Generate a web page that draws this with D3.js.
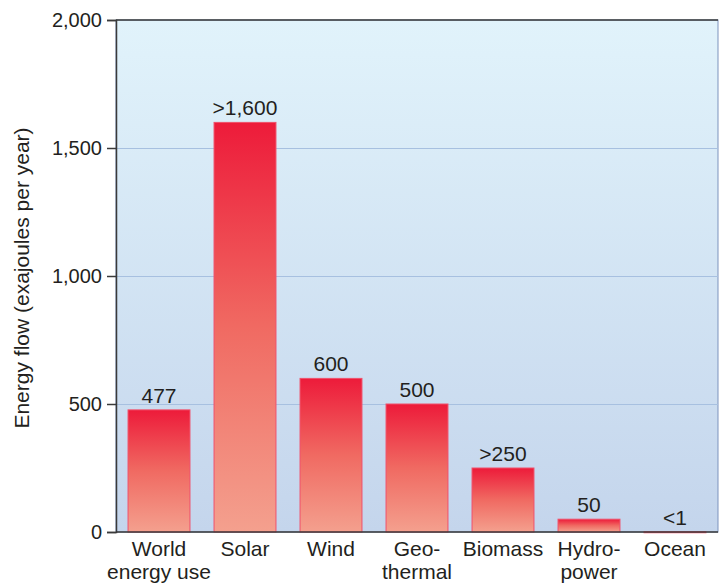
<!DOCTYPE html>
<html>
<head>
<meta charset="utf-8">
<script src="https://cdn.jsdelivr.net/npm/d3@7"></script>
<style>
  body { margin: 0; background: #fff; }
  text { font-family: "Liberation Sans", Arial, sans-serif; fill: #231f20; }
</style>
</head>
<body>
<div id="chart"></div>
<script>
// data
const categories = [["World", "energy use"], ["Solar"], ["Wind"], ["Geo-", "thermal"], ["Biomass"], ["Hydro-", "power"], ["Ocean"]];
const values = [477, 1600, 600, 500, 250, 50, 1];
const valueLabels = ["477", ">1,600", "600", "500", ">250", "50", "<1"];
const yTicks = [0, 500, 1000, 1500, 2000];

const width = 726, height = 585;
const margin = {top: 20, right: 8, bottom: 53, left: 116};

const svg = d3.select("#chart").append("svg")
    .attr("width", width)
    .attr("height", height);

const defs = svg.append("defs");
const bg = defs.append("linearGradient").attr("id", "bgGrad")
    .attr("x1", 0).attr("y1", 0).attr("x2", 0).attr("y2", 1);
bg.append("stop").attr("offset", "0%").attr("stop-color", "#e1f3fb");
bg.append("stop").attr("offset", "100%").attr("stop-color", "#c4d5ec");

const barGrad = defs.append("linearGradient").attr("id", "barGrad")
    .attr("x1", 0).attr("y1", 0).attr("x2", 0).attr("y2", 1);
barGrad.append("stop").attr("offset", "0%").attr("stop-color", "#ed1b3a");
barGrad.append("stop").attr("offset", "50%").attr("stop-color", "#f06a62");
barGrad.append("stop").attr("offset", "100%").attr("stop-color", "#f4a08e");

const x = d3.scaleBand()
    .domain(d3.range(categories.length))
    .range([margin.left, width - margin.right])
    .paddingInner(0.28)
    .paddingOuter(0.14);

const y = d3.scaleLinear()
    .domain([0, 2000])
    .range([height - margin.bottom, margin.top]);

// plot background
svg.append("rect")
    .attr("x", margin.left)
    .attr("y", margin.top)
    .attr("width", width - margin.right - margin.left)
    .attr("height", y(0) - margin.top)
    .attr("fill", "url(#bgGrad)")
    .attr("stroke", "#7d93bd")
    .attr("stroke-width", 1);

// gridlines
svg.append("g")
    .selectAll("line")
    .data(yTicks.filter(d => d > 0 && d < 2000))
    .join("line")
    .attr("x1", margin.left)
    .attr("x2", width - margin.right)
    .attr("y1", d => y(d) + 0.5)
    .attr("y2", d => y(d) + 0.5)
    .attr("stroke", "#a7c0e0")
    .attr("stroke-width", 1.2);

// top border
svg.append("line")
    .attr("x1", margin.left).attr("x2", width - margin.right)
    .attr("y1", margin.top).attr("y2", margin.top)
    .attr("stroke", "#3a3a3a").attr("stroke-width", 1.5);

// bars
svg.append("g")
    .selectAll("rect")
    .data(values)
    .join("rect")
    .attr("x", (d, i) => x(i))
    .attr("y", d => y(d))
    .attr("width", x.bandwidth())
    .attr("height", d => Math.max(1, y(0) - y(d)))
    .attr("fill", "url(#barGrad)")
    .attr("stroke", "#f0506a")
    .attr("stroke-width", 1);

// value labels
svg.append("g")
    .selectAll("text")
    .data(values)
    .join("text")
    .attr("x", (d, i) => x(i) + x.bandwidth() / 2)
    .attr("y", d => y(d) - 7)
    .attr("text-anchor", "middle")
    .style("font-size", "21px")
    .text((d, i) => valueLabels[i]);

// y axis
const yAxis = d3.axisLeft(y)
    .tickValues(yTicks)
    .tickSize(9)
    .tickPadding(5)
    .tickFormat(d3.format(","));
const gy = svg.append("g")
    .attr("transform", "translate(" + margin.left + ",0)")
    .call(yAxis);
gy.select(".domain").attr("stroke", "#3a3a3a").attr("stroke-width", 1.5);
gy.selectAll(".tick line").attr("stroke", "#3a3a3a").attr("stroke-width", 1.5);
gy.selectAll(".tick text").style("font-size", "20px").attr("fill", "#231f20");

// x axis line
svg.append("line")
    .attr("x1", margin.left).attr("x2", width - margin.right)
    .attr("y1", y(0)).attr("y2", y(0))
    .attr("stroke", "#3a3a3a").attr("stroke-width", 1.5);

// category labels
const cat = svg.append("g")
    .selectAll("text")
    .data(categories)
    .join("text")
    .attr("x", (d, i) => x(i) + x.bandwidth() / 2)
    .attr("y", y(0) + 24)
    .attr("text-anchor", "middle")
    .style("font-size", "21px");
cat.selectAll("tspan")
    .data(d => d)
    .join("tspan")
    .attr("x", function() { return d3.select(this.parentNode).attr("x"); })
    .attr("dy", (d, i) => i === 0 ? 0 : 23)
    .text(d => d);

// y axis title
svg.append("text")
    .attr("transform", "rotate(-90)")
    .attr("x", -(margin.top + y(0)) / 2 - 2)
    .attr("y", 29)
    .attr("text-anchor", "middle")
    .style("font-size", "21px")
    .text("Energy flow (exajoules per year)");
</script>
</body>
</html>
